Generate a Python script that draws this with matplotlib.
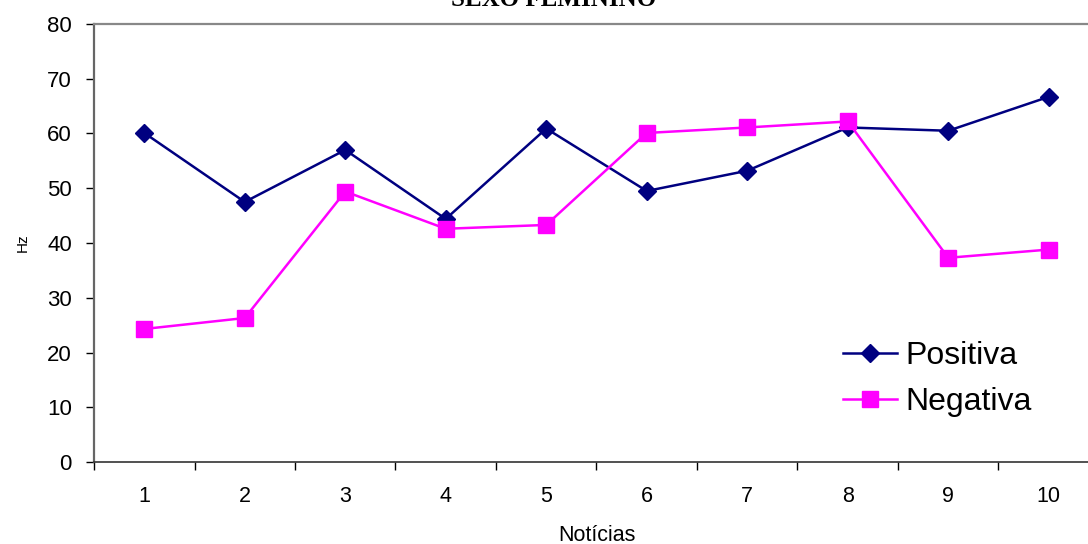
import numpy as np
import matplotlib.pyplot as plt

plt.rcParams['font.family'] = ['Liberation Sans', 'DejaVu Sans']

noticias = [1, 2, 3, 4, 5, 6, 7, 8, 9, 10]
positiva = [60.1, 47.5, 57.0, 44.4, 60.9, 49.5, 53.2, 61.1, 60.5, 66.7]
negativa = [24.3, 26.3, 49.4, 42.6, 43.3, 60.1, 61.1, 62.2, 37.3, 38.8]

fig = plt.figure(figsize=(10.88, 5.44), dpi=100)
ax = fig.add_axes([0.0864, 0.1507, 0.9237, 0.8052])

ax.plot(noticias, positiva, color='#000080', lw=1.8, marker='D', ms=9,
        label='Positiva', clip_on=False)
ax.plot(noticias, negativa, color='#FF00FF', lw=1.8, marker='s', ms=11,
        label='Negativa', clip_on=False)

ax.set_xlim(0.5, 10.5)
ax.set_ylim(0, 80)
ax.set_yticks(np.arange(0, 81, 10))
ax.tick_params(axis='y', labelsize=16, length=6, width=1, direction='out',
               pad=10)

# category axis: labels at centres, tick marks between categories
ax.set_xticks(noticias)
ax.set_xticklabels([str(n) for n in noticias])
ax.set_xticks(np.arange(0.5, 11, 1), minor=True)
ax.tick_params(axis='x', which='major', length=0, labelsize=15.5, pad=17)
ax.tick_params(axis='x', which='minor', length=6, width=1, direction='out')

ax.spines['left'].set_color('#666666')
ax.spines['left'].set_linewidth(1.6)
ax.spines['top'].set_color('#888888')
ax.spines['top'].set_linewidth(1.6)
ax.spines['bottom'].set_color('#333333')
ax.spines['bottom'].set_linewidth(1.2)
ax.spines['right'].set_visible(False)

ax.set_ylabel('Hz', fontsize=11, labelpad=12)
ax.set_xlabel('Notícias', fontsize=15.5, labelpad=13)

fig.text(0.509, 0.989, 'SEXO FEMININO', family='Liberation Serif',
         fontweight='bold', fontsize=18, ha='center', va='baseline')

ax.legend(loc='upper left', bbox_to_anchor=(0.745, 0.276), frameon=False,
          fontsize=23, handlelength=1.7, handletextpad=0.25,
          labelspacing=0.5, borderpad=0, borderaxespad=0)

fig.savefig('out.png', dpi=100)
